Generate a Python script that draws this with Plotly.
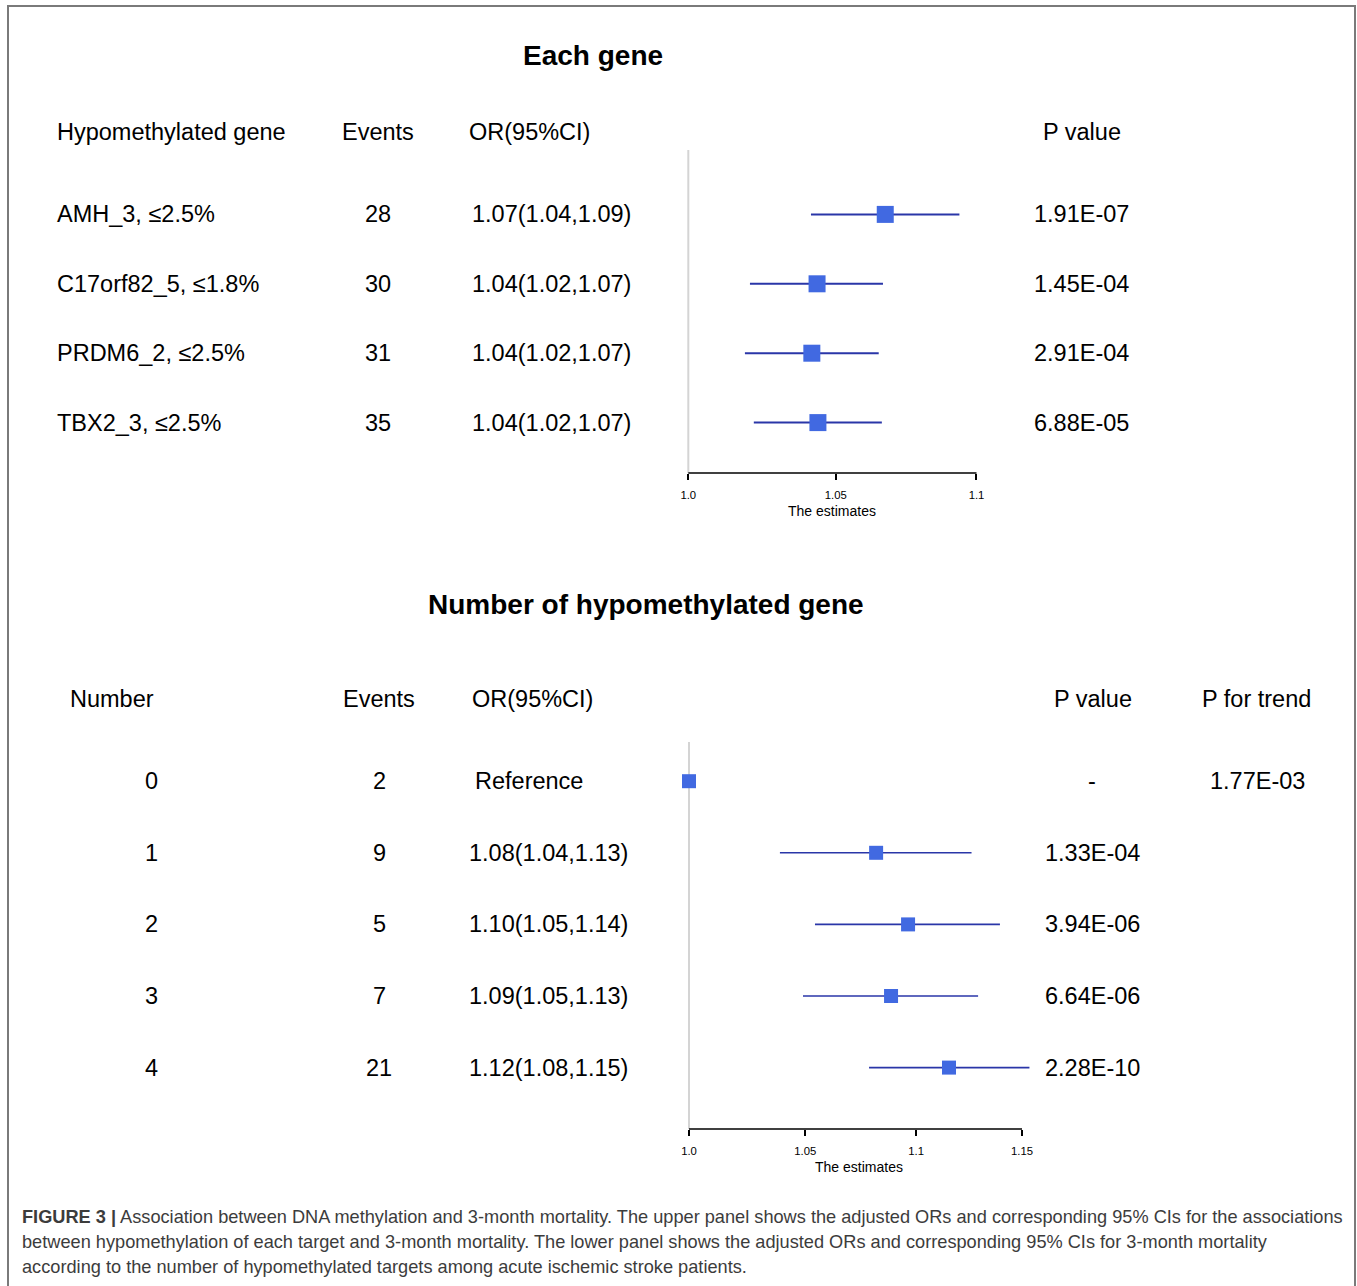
import math
import plotly.graph_objects as go

W, H = 1357, 1286
FONT = "Liberation Sans, Arial, sans-serif"

# ---------------- data: upper panel ----------------
genes = ["AMH_3, ≤2.5%", "C17orf82_5, ≤1.8%", "PRDM6_2, ≤2.5%", "TBX2_3, ≤2.5%"]
gene_events = ["28", "30", "31", "35"]
gene_or_text = ["1.07(1.04,1.09)", "1.04(1.02,1.07)", "1.04(1.02,1.07)", "1.04(1.02,1.07)"]
gene_p = ["1.91E-07", "1.45E-04", "2.91E-04", "6.88E-05"]
gene_est = [1.0673, 1.0435, 1.0417, 1.0438]
gene_lo = [1.0414, 1.0206, 1.0189, 1.0219]
gene_hi = [1.0938, 1.0665, 1.0650, 1.0661]
upper_ticks = [1.0, 1.05, 1.1]
upper_ticktext = ["1.0", "1.05", "1.1"]

# ---------------- data: lower panel ----------------
numbers = ["0", "1", "2", "3", "4"]
num_events = ["2", "9", "5", "7", "21"]
num_or_text = ["Reference", "1.08(1.04,1.13)", "1.10(1.05,1.14)", "1.09(1.05,1.13)", "1.12(1.08,1.15)"]
num_p = ["-", "1.33E-04", "3.94E-06", "6.64E-06", "2.28E-10"]
num_trend = ["1.77E-03", "", "", "", ""]
num_est = [1.0, 1.0817, 1.0963, 1.0885, 1.1153]
num_lo = [None, 1.0389, 1.0543, 1.0490, 1.0785]
num_hi = [None, 1.1259, 1.1394, 1.1290, 1.1536]
lower_ticks = [1.0, 1.05, 1.1, 1.15]
lower_ticktext = ["1.0", "1.05", "1.1", "1.15"]

caption_lines = [
    "<b>FIGURE 3 |</b> Association between DNA methylation and 3-month mortality. The upper panel shows the adjusted ORs and corresponding 95% CIs for the associations",
    "between hypomethylation of each target and 3-month mortality. The lower panel shows the adjusted ORs and corresponding 95% CIs for 3-month mortality",
    "according to the number of hypomethylated targets among acute ischemic stroke patients.",
]

BOX = "#4169E1"
LINE = "#2a36a8"


def px(x):
    return x / W


def py(y):
    return 1 - y / H


def segs(lo, hi, n):
    xs, ys = [], []
    for i in range(n):
        if lo[i] is None:
            continue
        xs += [lo[i], hi[i], None]
        ys += [i, i, None]
    return xs, ys


fig = go.Figure()

xs, ys = segs(gene_lo, gene_hi, len(genes))
fig.add_trace(go.Scatter(x=xs, y=ys, mode="lines", line=dict(color=LINE, width=2),
                         xaxis="x", yaxis="y", hoverinfo="skip"))
fig.add_trace(go.Scatter(x=gene_est, y=list(range(len(genes))), mode="markers",
                         marker=dict(symbol="square", size=17, color=BOX),
                         xaxis="x", yaxis="y", cliponaxis=False))

xs, ys = segs(num_lo, num_hi, len(numbers))
fig.add_trace(go.Scatter(x=xs, y=ys, mode="lines", line=dict(color=LINE, width=1.6),
                         xaxis="x2", yaxis="y2", hoverinfo="skip"))
fig.add_trace(go.Scatter(x=num_est, y=list(range(len(numbers))), mode="markers",
                         marker=dict(symbol="square", size=14, color=BOX),
                         xaxis="x2", yaxis="y2", cliponaxis=False))


def log_axis_geometry(px_first, px_last, v_first, v_last, pad_lo, pad_hi):
    """Log axis where v_first sits at px_first and v_last at px_last; range padded."""
    l0, l1 = math.log10(v_first), math.log10(v_last)
    scale = (px_last - px_first) / (l1 - l0)
    r0, r1 = math.log10(pad_lo), math.log10(pad_hi)
    dom = [px(px_first + (r0 - l0) * scale), px(px_first + (r1 - l0) * scale)]
    return [r0, r1], dom


u_range, u_dom = log_axis_geometry(688.3, 976.5, upper_ticks[0], upper_ticks[-1], 0.99, 1.11)
l_range, l_dom = log_axis_geometry(689.0, 1022.0, lower_ticks[0], lower_ticks[-1], 0.99, 1.165)


def to_paper(v, rng, dom):
    return dom[0] + (math.log10(v) - rng[0]) / (rng[1] - rng[0]) * (dom[1] - dom[0])


u_top, u_bot = 150, 473
u_row0, u_step = 214.4, 69.4
l_top, l_bot = 742, 1129
l_row0, l_step = 781.2, 71.6

axis_common = dict(type="log", showgrid=False, zeroline=False, showline=False, ticks="outside",
                   ticklen=6, tickwidth=1.5, tickcolor="black",
                   tickfont=dict(family=FONT, size=11.3, color="black"),
                   ticklabelstandoff=5, fixedrange=True)

fig.update_layout(
    width=W, height=H,
    margin=dict(l=0, r=0, t=0, b=0),
    paper_bgcolor="white", plot_bgcolor="rgba(0,0,0,0)",
    showlegend=False,
    xaxis=dict(domain=u_dom, range=u_range, anchor="y", tickvals=upper_ticks,
               ticktext=upper_ticktext, **axis_common),
    yaxis=dict(domain=[py(u_bot), py(u_top)],
               range=[(u_bot - u_row0) / u_step, (u_top - u_row0) / u_step],
               visible=False, anchor="x", fixedrange=True),
    xaxis2=dict(domain=l_dom, range=l_range, anchor="y2", tickvals=lower_ticks,
                ticktext=lower_ticktext, **axis_common),
    yaxis2=dict(domain=[py(l_bot), py(l_top)],
                range=[(l_bot - l_row0) / l_step, (l_top - l_row0) / l_step],
                visible=False, anchor="x2", fixedrange=True),
)

shapes = []
ux1 = to_paper(1.0, u_range, u_dom)
lx1 = to_paper(1.0, l_range, l_dom)
shapes.append(dict(type="line", xref="paper", yref="paper", x0=ux1, x1=ux1, y0=py(u_bot), y1=py(u_top),
                   line=dict(color="#d4d4d4", width=2), layer="below"))
shapes.append(dict(type="line", xref="paper", yref="paper", x0=lx1, x1=lx1, y0=py(l_bot), y1=py(l_top),
                   line=dict(color="#d4d4d4", width=2), layer="below"))
shapes.append(dict(type="line", xref="paper", yref="paper",
                   x0=to_paper(upper_ticks[0], u_range, u_dom), x1=to_paper(upper_ticks[-1], u_range, u_dom),
                   y0=py(u_bot), y1=py(u_bot), line=dict(color="black", width=1.6)))
shapes.append(dict(type="line", xref="paper", yref="paper",
                   x0=to_paper(lower_ticks[0], l_range, l_dom), x1=to_paper(lower_ticks[-1], l_range, l_dom),
                   y0=py(l_bot), y1=py(l_bot), line=dict(color="black", width=1.6)))
shapes.append(dict(type="rect", xref="paper", yref="paper", x0=px(8), x1=px(1355),
                   y0=-0.02, y1=py(6), line=dict(color="#7a7a7a", width=2)))
fig.update_layout(shapes=shapes)

ann = []


def txt(text, x, y, size=23.5, xanchor="center", bold=False, color="black", xref="paper", yref="paper"):
    ann.append(dict(text=("<b>%s</b>" % text) if bold else text, x=x, y=y, xref=xref, yref=yref,
                    xanchor=xanchor, yanchor="middle", showarrow=False,
                    font=dict(family=FONT, size=size, color=color)))


txt("Each gene", px(593), py(56), size=28, bold=True)
txt("Number of hypomethylated gene", px(646), py(604), size=28, bold=True)

txt("Hypomethylated gene", px(55), py(132), xanchor="left")
txt("Events", px(378), py(132))
txt("OR(95%CI)", px(467), py(132), xanchor="left")
txt("P value", px(1082), py(132))
for i in range(len(genes)):
    txt(genes[i], px(55), i, xanchor="left", yref="y")
    txt(gene_events[i], px(378), i, yref="y")
    txt(gene_or_text[i], px(470), i, xanchor="left", yref="y")
    txt(gene_p[i], px(1081), i, yref="y")

txt("Number", px(68), py(699), xanchor="left")
txt("Events", px(379), py(699))
txt("OR(95%CI)", px(470), py(699), xanchor="left")
txt("P value", px(1093), py(699))
txt("P for trend", px(1256), py(699))
for i in range(len(numbers)):
    txt(numbers[i], px(151), i, yref="y2")
    txt(num_events[i], px(379), i, yref="y2")
    txt(num_or_text[i], px(473 if num_or_text[i] == "Reference" else 467), i, xanchor="left", yref="y2")
    txt(num_p[i], px(1092), i, yref="y2")
    if num_trend[i]:
        txt(num_trend[i], px(1257), i, yref="y2")

txt("The estimates", px(832), py(511), size=14)
txt("The estimates", px(859), py(1167), size=14)

for k, line in enumerate(caption_lines):
    txt(line, px(20), py(1217 + 25 * k), size=18.2, xanchor="left", color="#3c3c3c")

fig.update_layout(annotations=ann)

fig.write_html("out.html")
